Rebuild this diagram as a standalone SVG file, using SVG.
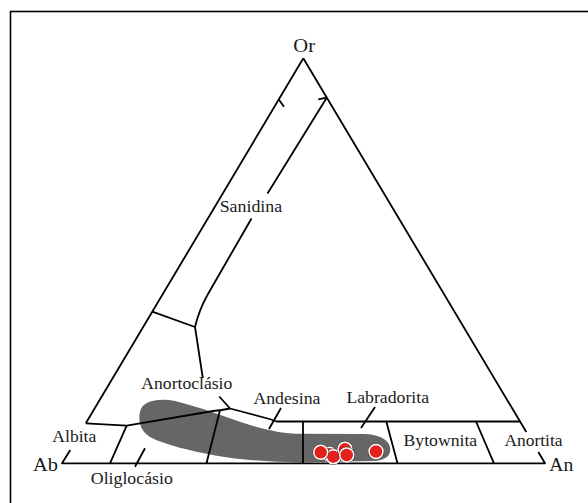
<svg xmlns="http://www.w3.org/2000/svg" width="588" height="503" viewBox="0 0 588 503">
<style>
.ln{fill:none;stroke:#000;stroke-width:1.8;stroke-linejoin:round;stroke-linecap:butt}
.lb{font-family:"Liberation Serif","Times New Roman",serif;font-size:16px;fill:#1a1a1a}
.vx{font-family:"Liberation Serif","Times New Roman",serif;font-size:19px;fill:#1a1a1a}
.dot{fill:#e3201b;stroke:#fff;stroke-width:1.5}
.dotb{fill:#333}
</style>
<rect x="0" y="0" width="588" height="503" fill="#fff"/>
<rect x="10.5" y="11.5" width="600" height="600" fill="none" stroke="#000" stroke-width="1.6"/>
<g id="field">
<path d="M140,412 C142,400 160,398 175,401 C200,407 225,417 250,425 C270,431 285,433.5 300,433.8 L365,434 C385,435 392,444 390,452 C388,460 378,461 370,461 L300,462.5 C270,462 240,460 215,455.5 C190,450.5 165,445 150,437 C140,431 138,420 140,412 Z" fill="#666"/>
</g>
<g id="connectors">
<path class="ln" d="M303.3,58.3 L85.8,423.3 M70.3,450 L62,463.3 L545,463.3 L538.3,452 M526.3,432 L303.3,58.3"/>
<path class="ln" d="M326.7,97.7 L267.5,193.5 M251.5,218.5 L208,294 Q199,310 195,327"/>
<path class="ln" d="M278.6,99.3 L284,106.7 M318.3,99.3 L326.7,97.7"/>
<path class="ln" d="M152.3,311.7 L195,327 L202.8,378"/>
<path class="ln" d="M219.3,396.5 L230,408.5"/>
<path class="ln" d="M85.8,423.3 L126.7,425.7 L213.3,411 L221.7,410 L230,408.5 L269.5,419 L276.5,421.5 L520,421.5"/>
<path class="ln" d="M126.7,425.7 L110,463.3 M220,410.3 L206.5,463.3 M303,421.5 L303,463.3 M386.3,421.5 L397.5,463.3 M476,421.5 L494,463.3"/>
<path class="ln" d="M145,448.3 L135,466.7 M281,408 L269,429 M375,407 L361,428" stroke-width="1.3"/>
</g>
<g id="samples">
<circle class="dotb" cx="329.3" cy="454.3" r="8.2"/><circle class="dot" cx="329.3" cy="454.3" r="7"/>
<circle class="dotb" cx="333.3" cy="456.7" r="8.2"/><circle class="dot" cx="333.3" cy="456.7" r="7"/>
<circle class="dotb" cx="320.7" cy="452.3" r="8.2"/><circle class="dot" cx="320.7" cy="452.3" r="7"/>
<circle class="dotb" cx="345" cy="449.3" r="8.2"/><circle class="dot" cx="345" cy="449.3" r="7"/>
<circle class="dotb" cx="346.7" cy="455" r="8.2"/><circle class="dot" cx="346.7" cy="455" r="7"/>
<circle class="dotb" cx="376" cy="451.5" r="8.2"/><circle class="dot" cx="376" cy="451.5" r="7"/>
</g>
<g id="labels">
<text class="vx" x="293.3" y="52" textLength="21.7" lengthAdjust="spacingAndGlyphs">Or</text>
<text class="vx" x="32.9" y="470.5" textLength="25" lengthAdjust="spacingAndGlyphs">Ab</text>
<text class="vx" x="549.3" y="470.5" textLength="24" lengthAdjust="spacingAndGlyphs">An</text>
<text class="lb" x="219.7" y="211.5" textLength="62.4" lengthAdjust="spacingAndGlyphs">Sanidina</text>
<text class="lb" x="141.3" y="389.3" textLength="91" lengthAdjust="spacingAndGlyphs">Anortoclásio</text>
<text class="lb" x="253.4" y="404" textLength="67" lengthAdjust="spacingAndGlyphs">Andesina</text>
<text class="lb" x="346.4" y="403.3" textLength="82.6" lengthAdjust="spacingAndGlyphs">Labradorita</text>
<text class="lb" x="52.3" y="442.3" textLength="44" lengthAdjust="spacingAndGlyphs">Albita</text>
<text class="lb" x="403.6" y="446" textLength="73.6" lengthAdjust="spacingAndGlyphs">Bytownita</text>
<text class="lb" x="504.5" y="446" textLength="58" lengthAdjust="spacingAndGlyphs">Anortita</text>
<text class="lb" x="90.8" y="483.5" textLength="82" lengthAdjust="spacingAndGlyphs">Oliglocásio</text>
</g>
</svg>
